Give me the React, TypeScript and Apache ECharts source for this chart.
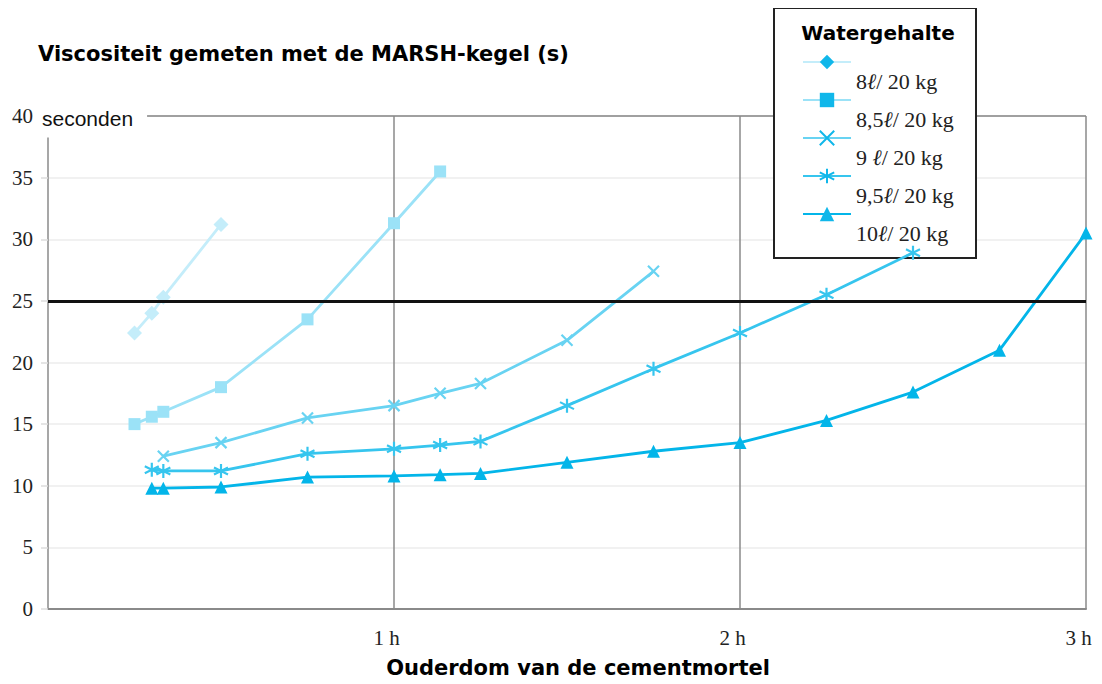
import React, { useEffect, useRef } from 'react';
import * as echarts from 'echarts';

// Watergehalte series (x in minutes since mixing, y in seconds)
const seriesNames = ['8ℓ/ 20 kg', '8,5ℓ/ 20 kg', '9 ℓ/ 20 kg', '9,5ℓ/ 20 kg', '10ℓ/ 20 kg'];

const minutes8 = [15, 18, 20, 30];
const seconds8 = [22.4, 24.0, 25.3, 31.2];

const minutes85 = [15, 18, 20, 30, 45, 60, 68];
const seconds85 = [15.0, 15.6, 16.0, 18.0, 23.5, 31.3, 35.5];

const minutes9 = [20, 30, 45, 60, 68, 75, 90, 105];
const seconds9 = [12.4, 13.5, 15.5, 16.5, 17.5, 18.3, 21.8, 27.4];

const minutes95 = [18, 20, 30, 45, 60, 68, 75, 90, 105, 120, 135, 150];
const seconds95 = [11.3, 11.2, 11.2, 12.6, 13.0, 13.3, 13.6, 16.5, 19.5, 22.4, 25.5, 28.9];

const minutes10 = [18, 20, 30, 45, 60, 68, 75, 90, 105, 120, 135, 150, 165, 180];
const seconds10 = [9.8, 9.8, 9.9, 10.7, 10.8, 10.9, 11.0, 11.9, 12.8, 13.5, 15.3, 17.6, 21.0, 30.5];

const xTickLabels = ['', '1 h', '2 h', '3 h'];
const threshold = 25;

const titleText = 'Viscositeit gemeten met de MARSH-kegel (s)';
const xAxisTitle = 'Ouderdom van de cementmortel';
const yUnit = 'seconden';
const legendTitle = 'Watergehalte';

const colors = ['#c4edfa', '#9be2f7', '#68d3f2', '#36c5ee', '#03b5e9'];
const legendMarkerColor = '#10b7ea';

const xPath = 'path://M0,0L10,10M10,0L0,10';
const asteriskPath = 'path://M5,0L5,10M0.67,2.5L9.33,7.5M0.67,7.5L9.33,2.5';

const symbols = ['diamond', 'rect', xPath, asteriskPath, 'triangle'];
const symbolSizes = [15, 12, 11, 14, 13];
const strokeWidths = [0, 0, 2.2, 2.2, 0];

const xs = [minutes8, minutes85, minutes9, minutes95, minutes10];
const ys = [seconds8, seconds85, seconds9, seconds95, seconds10];

export default function App() {
  const ref = useRef<HTMLDivElement>(null);

  useEffect(() => {
    if (!ref.current) return;
    const chart = echarts.init(ref.current, undefined, { renderer: 'svg' });

    const series: any[] = seriesNames.map((name, i) => ({
      name,
      type: 'line',
      data: xs[i].map((m, j) => [m, ys[i][j]]),
      symbol: symbols[i],
      symbolSize: symbolSizes[i],
      showSymbol: true,
      lineStyle: { color: colors[i], width: 2.8 },
      itemStyle: {
        color: colors[i],
        borderColor: colors[i],
        borderWidth: strokeWidths[i],
      },
      z: 2,
      emphasis: { disabled: true },
    }));

    series[0].markLine = {
      silent: true,
      symbol: 'none',
      label: { show: false },
      lineStyle: { color: '#111', width: 3, type: 'solid' },
      data: [{ yAxis: threshold }],
    };

    const option: any = {
      animation: false,
      backgroundColor: '#fff',
      grid: { left: 48, right: 16, top: 116, bottom: 75, containLabel: false },
      xAxis: {
        type: 'value',
        min: 0,
        max: 180,
        interval: 60,
        axisLine: { show: true, lineStyle: { color: '#8a8a8a', width: 2 } },
        axisTick: { show: false },
        splitLine: { show: true, lineStyle: { color: '#8a8a8a', width: 1.5 } },
        axisLabel: {
          formatter: (v: number) => xTickLabels[Math.round(v / 60)] ?? '',
          fontFamily: 'Liberation Serif',
          fontSize: 21,
          color: '#222',
          margin: 18,
          padding: [0, 15, 0, 0],
        },
      },
      yAxis: {
        type: 'value',
        min: 0,
        max: 40,
        interval: 5,
        axisLine: { show: false },
        axisTick: { show: true, length: 7, lineStyle: { color: '#dddddd', width: 1.5 } },
        splitLine: {
          show: true,
          lineStyle: {
            color: ['#8a8a8a', '#ececec', '#ececec', '#ececec', '#ececec', '#ececec', '#ececec', '#ececec', '#808080'],
            width: 1.5,
          },
        },
        axisLabel: {
          fontFamily: 'Liberation Serif',
          fontSize: 21,
          color: '#222',
          margin: 15,
        },
      },
      legend: {
        orient: 'vertical',
        left: 802,
        top: 32,
        padding: 0,
        itemWidth: 48,
        itemHeight: 18,
        itemGap: -22,
        selectedMode: false,
        data: seriesNames.map((name) => ({
          name,
          itemStyle: { color: legendMarkerColor, borderColor: legendMarkerColor },
        })),
        formatter: (name: string) => name.replace('ℓ', '{i|ℓ}'),
        textStyle: {
          fontFamily: 'Liberation Serif',
          fontSize: 22,
          lineHeight: 22,
          color: '#222',
          padding: [38, 0, 0, 0],
          rich: {
            i: {
              fontFamily: 'Liberation Serif',
              fontStyle: 'italic',
              fontSize: 22,
              lineHeight: 22,
              color: '#222',
            },
          },
        },
      },
      graphic: [
        {
          type: 'rect',
          z: 1,
          shape: { x: 774, y: 8, width: 202, height: 250 },
          style: { fill: '#fff', stroke: '#222', lineWidth: 2 },
          silent: true,
        },
        {
          type: 'text',
          z: 10,
          x: 878,
          y: 33,
          style: {
            text: legendTitle,
            align: 'center',
            verticalAlign: 'middle',
            fontFamily: 'DejaVu Sans',
            fontWeight: 'bold',
            fontSize: 20,
            fill: '#000',
          },
        },
        {
          type: 'text',
          z: 10,
          x: 40,
          y: 118,
          style: {
            text: yUnit,
            align: 'left',
            verticalAlign: 'middle',
            fontFamily: 'Liberation Sans',
            fontSize: 21,
            fill: '#111',
            backgroundColor: '#fff',
            padding: [8, 14, 10, 2],
          },
        },
        {
          type: 'text',
          z: 10,
          x: 38,
          y: 54,
          style: {
            text: titleText,
            align: 'left',
            verticalAlign: 'middle',
            fontFamily: 'DejaVu Sans',
            fontWeight: 'bold',
            fontSize: 21,
            fill: '#000',
          },
        },
        {
          type: 'text',
          z: 10,
          x: 578,
          y: 668,
          style: {
            text: xAxisTitle,
            align: 'center',
            verticalAlign: 'middle',
            fontFamily: 'DejaVu Sans',
            fontWeight: 'bold',
            fontSize: 21,
            fill: '#000',
          },
        },
      ],
      series,
    };

    chart.setOption(option);
    return () => chart.dispose();
  }, []);

  return <div ref={ref} style={{ width: 1102, height: 684, margin: -8 }} />;
}
